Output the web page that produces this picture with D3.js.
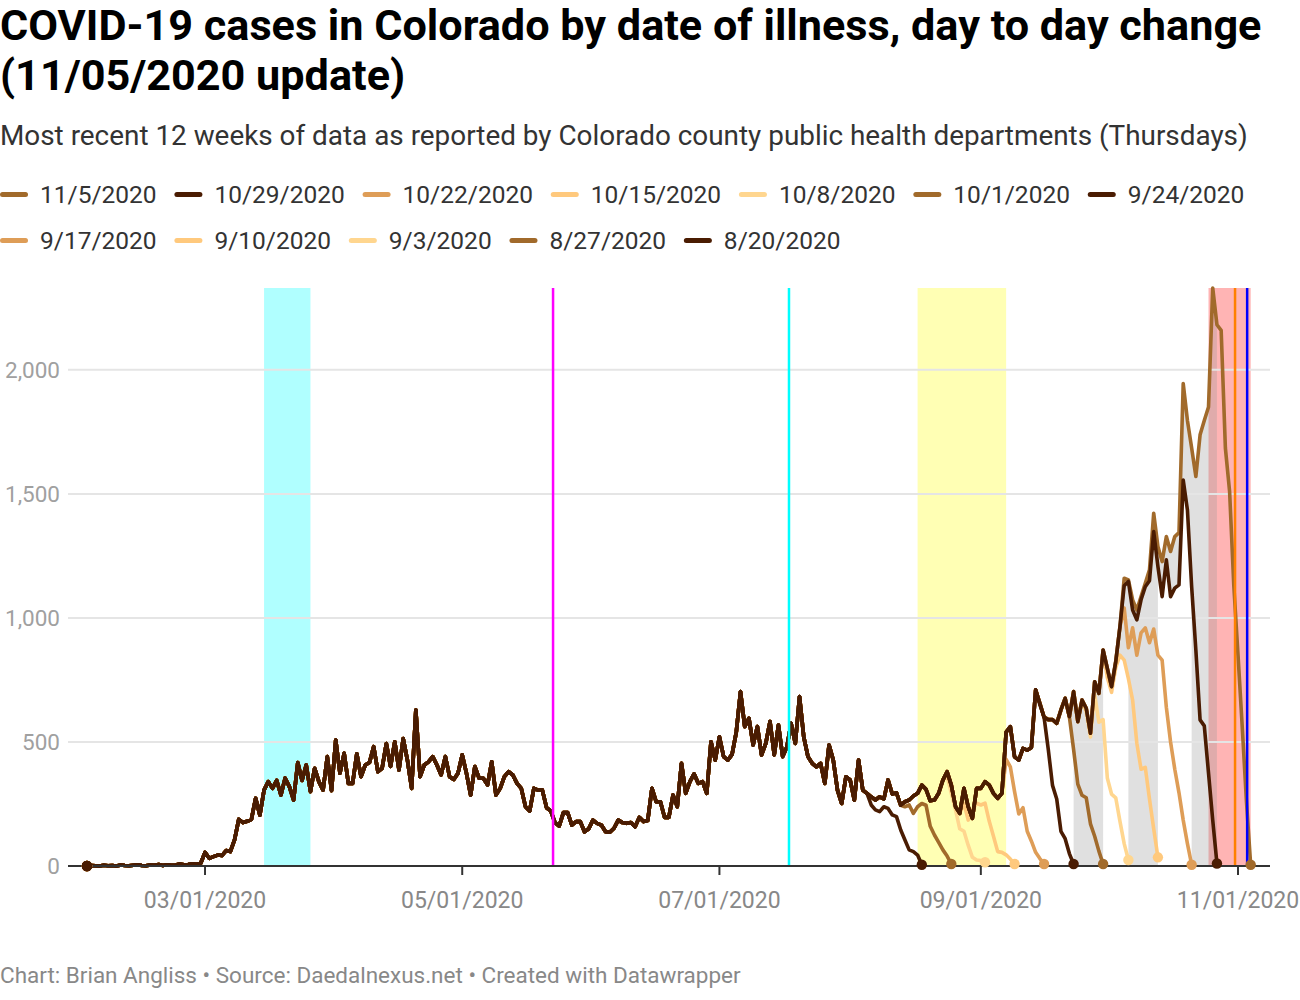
<!DOCTYPE html>
<html><head><meta charset="utf-8">
<script src="https://cdn.jsdelivr.net/npm/d3@7"></script>
<style>
body{margin:0;background:#fff;}
text{font-family:Roboto,"Noto Sans",sans-serif;}
</style></head><body>
<svg id="chart" width="1300" height="1000"></svg>
<script>
// ---------------- DATA ----------------
const startDate = "2020-02-02";
// shared history (identical in all reports), by month
const febValues = [0,2,1,0,3,1,2,0,4,2,1,3,5,2,1,4,3,6,2,5,3,4,8,5,6,9,7,12];
const marValues = [55,31,38,44,42,62,58,105,188,175,180,188,273,205,306,340,313,345,286,354,320,266,417,345,407,300,394,340,306,441,304];
const aprValues = [508,374,454,333,333,452,360,407,417,481,380,394,494,401,501,387,514,427,313,629,360,407,420,441,407,367,441,360,349,374];
const mayValues = [448,374,286,401,354,354,327,420,286,313,360,380,367,333,313,239,222,313,306,306,235,222,175,161,215,215,165,179,179,138,150];
const junValues = [185,172,165,138,136,152,185,175,172,175,158,196,179,183,313,259,259,196,196,286,239,414,293,340,371,333,340,293,501,427];
const julValues = [521,441,427,450,540,703,562,595,488,562,448,494,582,448,568,441,480,575,494,683,521,441,414,400,414,333,488,427,306,252,360];
const augValues = [347,266,427,306,293,279,266,279,270,347,290,295,245,259,266,282,293,326,309,263,266,293,346,380,326,239,212,313,239,192,313];
const sepValues = [313,340,326,293,273,293,540,562,440,427,474,467,478,710,656,600,590,590,575,629,676,602,703,582,669,636,535,743,696,871];
const octValues = [797,723,824,965];

// per-report recent values (each starts at its tail start date)
const tail1105 = [1160,1153,1073,1032,1086,1140,1194,1422,1288,1227,1328,1268,1328,1344,1945,1796,1685,1570,1738,1796,1850,2330,2182,2159,1685,1510,1130,850,560,260,5];
const tail1029 = [1130,1147,1032,992,1073,1126,1150,1348,1207,1086,1234,1086,1120,1133,1556,1435,1126,870,589,565,375,185,10];
const tail1022 = [1040,880,960,850,940,960,900,955,850,830,640,500,390,295,185,90,5];
const tail1015 = [760,700,800,850,830,755,669,495,390,398,270,150,35];
const tail1008 = [620,520,690,580,590,355,290,275,180,90,24];
const tail1001 = [470,330,285,275,170,120,60,8];
const tail0924 = [650,600,470,325,270,140,110,50,8];
const tail0917 = [430,400,300,210,235,140,100,55,30,8];
const tail0910 = [253,185,226,253,246,253,180,120,58,55,45,28,8];
const tail0903 = [360,293,226,150,140,84,35,24,22,15];
const tail0827 = [239,246,212,239,252,245,160,125,95,65,40,8];
const tail0820 = [246,226,219,239,232,206,199,145,105,65,58,44,5];

const seriesNames = ["11/5/2020","10/29/2020","10/22/2020","10/15/2020","10/8/2020","10/1/2020","9/24/2020","9/17/2020","9/10/2020","9/3/2020","8/27/2020","8/20/2020"];
const tailStarts = ["2020-10-05","2020-10-05","2020-10-05","2020-10-01","2020-09-26","2020-09-23","2020-09-15","2020-09-07","2020-08-28","2020-08-24","2020-08-14","2020-08-06"];
const tails = [tail1105,tail1029,tail1022,tail1015,tail1008,tail1001,tail0924,tail0917,tail0910,tail0903,tail0827,tail0820];
const seriesColors = ["#a16a2b","#4a1c02","#de9d57","#ffc97d","#ffd68f","#a16a2b","#4a1c02","#de9d57","#ffc97d","#ffd68f","#a16a2b","#4a1c02"];
const drawOrder = ["10/8/2020","9/3/2020","10/15/2020","9/10/2020","10/22/2020","9/17/2020","11/5/2020","10/1/2020","8/27/2020","8/20/2020","9/24/2020","10/29/2020"];

// gray fills: [top series, compared series, previous week's series]
// area between top and compared series, plus area under the compared series
// from the end of the previous week's series to its own end
const fillGroups = [
  ["11/5/2020","10/29/2020","10/22/2020"],
  ["11/5/2020","10/15/2020","10/8/2020"],
  ["11/5/2020","10/1/2020","9/24/2020"]
];

// highlights
const rangeBands = [
  {from:"2020-03-15T00:00", to:"2020-03-26T00:00", color:"#b0ffff"},
  {from:"2020-08-17T00:00", to:"2020-09-07T00:00", color:"#ffffb4"},
  {from:"2020-10-25T00:00", to:"2020-11-04T00:00", color:"#ffb4b4"}
];
const rangeLines = [
  {at:"2020-05-22T13:00", color:"#ff00ff"},
  {at:"2020-07-17T12:00", color:"#00ffff"},
  {at:"2020-10-31T07:00", color:"#ff8000"},
  {at:"2020-11-03T04:00", color:"#0000ff"}
];
const yTicks = [0,500,1000,1500,2000];
const xTicks = ["2020-03-01","2020-05-01","2020-07-01","2020-09-01","2020-11-01"];
const xDomain = ["2020-01-28T12:00","2020-11-08T14:00"];

const titleLines = ["COVID-19 cases in Colorado by date of illness, day to day change","(11/05/2020 update)"];
const subtitle = "Most recent 12 weeks of data as reported by Colorado county public health departments (Thursdays)";
const footer = "Chart: Brian Angliss \u2022 Source: Daedalnexus.net \u2022 Created with Datawrapper";

// ---------------- BUILD ----------------
const parseD = d3.timeParse("%Y-%m-%d");
const parseT = d3.timeParse("%Y-%m-%dT%H:%M");
const start = parseD(startDate);
const shared = [].concat(febValues,marValues,aprValues,mayValues,junValues,julValues,augValues,sepValues,octValues);
const dayIndex = s => d3.timeDay.count(start, parseD(s));
const series = seriesNames.map((name,i)=>{
  const k = dayIndex(tailStarts[i]);
  const vals = shared.slice(0,k).concat(tails[i]);
  return {name, color:seriesColors[i], points: vals.map((v,j)=>({date:d3.timeDay.offset(start,j), value:v}))};
});
const byName = Object.fromEntries(series.map(s=>[s.name,s]));

const svg = d3.select("#chart");
const plotTop = 288, plotBottom = 866, plotLeft = 68, plotRight = 1270;
const x = d3.scaleTime().domain(xDomain.map(parseT)).range([plotLeft, plotRight]);
const yMax = d3.max(series, s=>d3.max(s.points, p=>p.value));
const y = d3.scaleLinear().domain([0,yMax]).range([plotBottom, plotTop]);

// header
function fit(sel, target){ const w = sel.node().getComputedTextLength(); sel.attr("font-size", parseFloat(sel.attr("font-size"))*target/w); }
const t1 = svg.append("text").attr("x",0).attr("y",40).attr("font-size",36).attr("font-weight",700).attr("fill","#000").text(titleLines[0]);
fit(t1, 1262);
svg.append("text").attr("x",0).attr("y",90).attr("font-size",t1.attr("font-size")).attr("font-weight",700).attr("fill","#000").text(titleLines[1]);
const st = svg.append("text").attr("x",0).attr("y",145).attr("font-size",24).attr("fill","#333").text(subtitle);
fit(st, 1248);

// legend
const legend = svg.append("g");
let lx = 0, ly = 0;
const rowY = [203, 249];
const legendFont = 24.5;
seriesNames.forEach((name,i)=>{
  const g = legend.append("g");
  g.append("line").attr("x1",2.5).attr("x2",25.5).attr("y1",-8.5).attr("y2",-8.5).attr("stroke",seriesColors[i]).attr("stroke-width",5).attr("stroke-linecap","round");
  const tx = g.append("text").attr("x",40).attr("y",0).attr("font-size",legendFont).attr("fill","#333").text(name);
  const w = 40 + tx.node().getComputedTextLength();
  if (lx + w > 1265) { lx = 0; ly++; }
  g.attr("transform",`translate(${lx},${rowY[ly]})`);
  lx += w + 17.8;
});

// range bands
svg.append("g").selectAll("rect").data(rangeBands).join("rect")
  .attr("x",d=>x(parseT(d.from))).attr("width",d=>x(parseT(d.to))-x(parseT(d.from)))
  .attr("y",plotTop).attr("height",plotBottom-plotTop).attr("fill",d=>d.color);

// gray fills
const area = d3.area().x(d=>x(d.date)).y0(d=>y(d.lo)).y1(d=>y(d.hi));
const fillG = svg.append("g");
fillGroups.forEach(([a,b,c])=>{
  const hi = byName[a].points, lo = byName[b].points, prev = byName[c].points;
  const between = lo.map((p,i)=>({date:p.date, lo:p.value, hi:hi[i].value}));
  fillG.append("path").attr("d",area(between)).attr("fill","#999").attr("fill-opacity",0.3);
  const under = lo.slice(prev.length-1).map(p=>({date:p.date, lo:0, hi:p.value}));
  fillG.append("path").attr("d",area(under)).attr("fill","#999").attr("fill-opacity",0.3);
});

// grid + y labels
svg.append("g").selectAll("line").data(yTicks.filter(v=>v>0)).join("line")
  .attr("x1",plotLeft).attr("x2",plotRight).attr("y1",d=>y(d)).attr("y2",d=>y(d))
  .attr("stroke","#e5e5e5").attr("stroke-width",2);
svg.append("g").selectAll("text").data(yTicks).join("text")
  .attr("x",60).attr("y",d=>y(d)+8).attr("text-anchor","end").attr("font-size",22.5).attr("fill","#a0a0a0")
  .text(d3.format(","));

// lines
const line = d3.line().x(d=>x(d.date)).y(d=>y(d.value));
const linesG = svg.append("g");
drawOrder.forEach(n=>{
  const s = byName[n];
  linesG.append("path").attr("d",line(s.points)).attr("fill","none").attr("stroke",s.color)
    .attr("stroke-width",3.6).attr("stroke-linejoin","round").attr("stroke-linecap","round");
});

// range lines
svg.append("g").selectAll("line").data(rangeLines).join("line")
  .attr("x1",d=>x(parseT(d.at))).attr("x2",d=>x(parseT(d.at)))
  .attr("y1",plotTop).attr("y2",plotBottom).attr("stroke",d=>d.color).attr("stroke-width",2.5);

// x axis
svg.append("line").attr("x1",plotLeft).attr("x2",plotRight).attr("y1",plotBottom).attr("y2",plotBottom).attr("stroke","#333").attr("stroke-width",2);
const xg = svg.append("g");
xTicks.map(parseD).forEach(d=>{
  xg.append("line").attr("x1",x(d)).attr("x2",x(d)).attr("y1",plotBottom).attr("y2",plotBottom+9).attr("stroke","#333").attr("stroke-width",2);
  xg.append("text").attr("x",x(d)).attr("y",908).attr("text-anchor","middle").attr("font-size",23).attr("fill","#888").text(d3.timeFormat("%m/%d/%Y")(d));
});

// dots (first and last points)
const dotsG = svg.append("g");
drawOrder.forEach(n=>{
  const s = byName[n];
  [s.points[0], s.points[s.points.length-1]].forEach(p=>{
    dotsG.append("circle").attr("cx",x(p.date)).attr("cy",y(p.value)).attr("r",5.2).attr("fill",s.color);
  });
});

// footer
const ft = svg.append("text").attr("x",0).attr("y",983).attr("font-size",20).attr("fill","#888").text(footer);
fit(ft, 741);
</script>
</body></html>
